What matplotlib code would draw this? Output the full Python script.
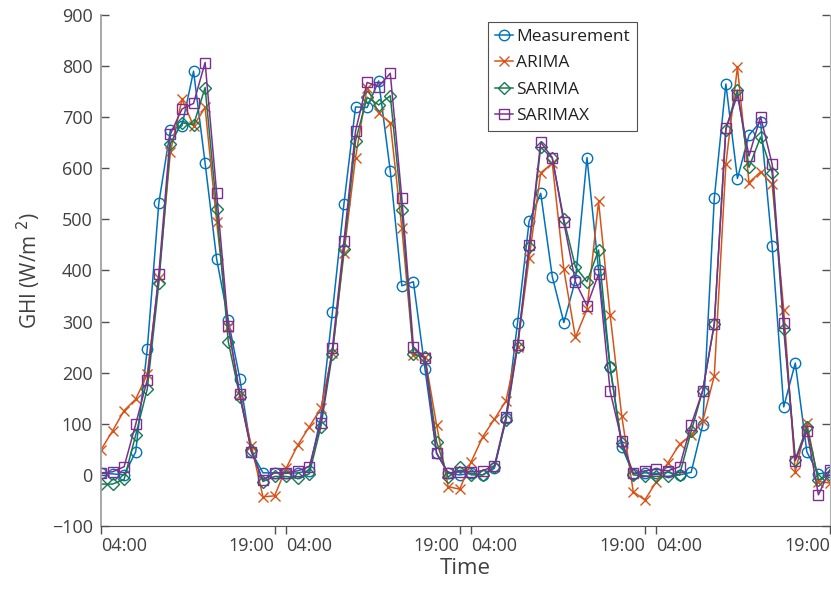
import matplotlib

matplotlib.use('Agg')

import matplotlib.pyplot as plt

plt.rcParams['font.family'] = ['Open Sans', 'DejaVu Sans']

# hourly samples 04:00-19:00, four days back to back (16 per day)
horas = list(range(1, 65))

medicao = [3, 2, 0, 45, 246, 532, 675, 683, 790, 610, 422, 303, 188, 45, 4, 4,
           3, 4, 8, 114, 318, 531, 720, 719, 771, 595, 370, 378, 207, 42, 3, 0,
           3, 0, 13, 111, 298, 496, 551, 388, 298, 381, 621, 401, 211, 55, 2, 4,
           3, 5, 0, 5, 98, 541, 765, 580, 665, 691, 448, 133, 219, 45, 2, 5]
arima = [49, 86, 126, 148, 197, 385, 632, 735, 683, 719, 495, 290, 156, 57, -43, -41,
         13, 58, 94, 130, 239, 434, 621, 758, 708, 689, 483, 235, 230, 98, -23, -28,
         26, 75, 109, 145, 251, 424, 591, 610, 402, 269, 324, 535, 313, 116, -33, -49,
         -13, 24, 60, 78, 105, 194, 608, 798, 572, 593, 569, 323, 6, 102, -13, -16]
sarima = [-18, -18, -9, 78, 168, 375, 648, 689, 685, 758, 520, 261, 153, 49, -13, -3,
          -3, -7, 2, 94, 237, 443, 654, 739, 724, 742, 518, 237, 230, 65, -5, 16,
          0, 0, 16, 107, 251, 445, 641, 620, 500, 407, 378, 440, 211, 62, 0, -2,
          -3, -3, 0, 85, 165, 295, 675, 753, 602, 661, 591, 285, 30, 93, -10, 0]
sarimax = [4, 6, 16, 99, 186, 393, 667, 716, 727, 807, 551, 291, 158, 45, -10, 4,
           4, 8, 16, 102, 248, 458, 673, 768, 760, 786, 541, 251, 228, 43, 4, 6,
           6, 8, 18, 113, 254, 449, 651, 621, 494, 378, 331, 393, 164, 67, 3, 8,
           11, 8, 16, 98, 165, 295, 678, 743, 624, 701, 608, 297, 28, 86, -39, 10]

series = [medicao, arima, sarima, sarimax]
nomes = ['Measurement', 'ARIMA', 'SARIMA', 'SARIMAX']
cores = ['#0072BD', '#D95319', '#157A4E', '#7E2F8E']
marcadores = ['o', 'x', 'D', 's']
tamanhos = [7.5, 7, 6.5, 6.5]

posTicks = [1, 16, 17, 32, 33, 48, 49, 64]
rotulos = ['04:00', '19:00'] * 4

fig = plt.figure(figsize=(8.31, 5.92), dpi=100)
ax = fig.add_axes([0.1215, 0.1115, 0.8773, 0.8632])

for i in range(4):
    ax.plot(horas, series[i], color=cores[i], marker=marcadores[i], markersize=tamanhos[i],
            markerfacecolor='none', markeredgewidth=1.0, linewidth=1.1, label=nomes[i])

ax.set_xlim(1, 64)
ax.set_ylim(-100, 900)
ax.set_yticks(range(-100, 901, 100))
ax.set_xticks(posTicks)
ax.set_xticklabels(rotulos)
for k, t in enumerate(ax.get_xticklabels()):
    t.set_ha('left' if k % 2 == 0 else 'right')

ax.spines['top'].set_visible(False)
ax.spines['left'].set_color('#a0a0a0')
ax.spines['right'].set_color('#b0b0b0')
ax.spines['bottom'].set_color('#505050')
ax.spines['left'].set_linewidth(1.3)

ax.tick_params(axis='y', direction='in', length=6, width=1, colors='#505050',
               labelsize=13, labelcolor='#404040', right=True, pad=6)
ax.tick_params(axis='x', direction='out', length=6, width=1, colors='#505050',
               labelsize=13, labelcolor='#404040', pad=2)

ax.set_xlabel('Time', fontsize=16, color='#404040', labelpad=2)
ax.set_ylabel('GHI (W/m$^{\\ 2}$)', fontsize=15, color='#404040', labelpad=6)

leg = ax.legend(loc='upper left', bbox_to_anchor=(0.531, 0.986), fontsize=12.5,
                handlelength=1.05, handletextpad=0.15, borderpad=0.4, labelspacing=0.58,
                borderaxespad=0, fancybox=False, framealpha=1)
leg.get_frame().set_edgecolor('#505050')
leg.get_frame().set_linewidth(0.8)
for t in leg.get_texts():
    t.set_color('#202020')

plt.savefig('out.png', dpi=100)
